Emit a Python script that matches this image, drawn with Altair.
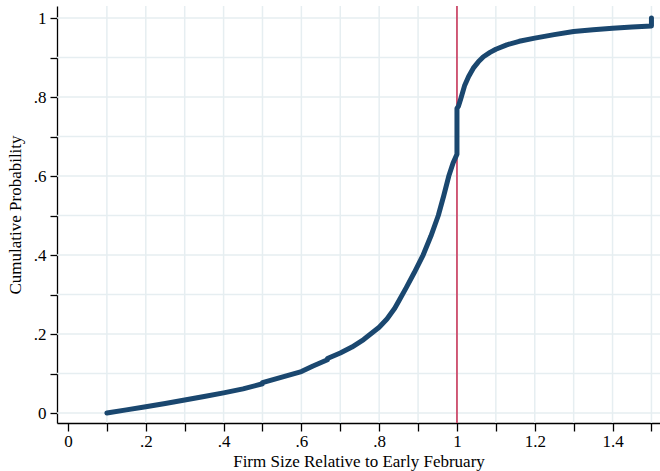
import altair as alt
import pandas as pd

# Empirical CDF of firm size relative to early February
size_ratio = [0.1, 0.15, 0.2, 0.25, 0.3, 0.35, 0.4, 0.45, 0.5, 0.5, 0.55, 0.6,
              0.63, 0.667, 0.667, 0.7, 0.73, 0.76, 0.8, 0.82, 0.84, 0.853, 0.87,
              0.89, 0.913, 0.933, 0.952, 0.966, 0.979, 0.99, 1.0, 1.0, 1.004,
              1.01, 1.02, 1.03, 1.042, 1.055, 1.068, 1.085, 1.1, 1.128, 1.16,
              1.2, 1.25, 1.3, 1.35, 1.4, 1.45, 1.5, 1.5]
cum_prob = [0.0, 0.008, 0.016, 0.024, 0.033, 0.042, 0.051, 0.061, 0.074, 0.077,
            0.091, 0.105, 0.119, 0.135, 0.138, 0.152, 0.167, 0.186, 0.217, 0.238,
            0.265, 0.288, 0.318, 0.355, 0.4, 0.448, 0.5, 0.55, 0.6, 0.633, 0.655,
            0.771, 0.777, 0.796, 0.83, 0.852, 0.873, 0.889, 0.902, 0.913, 0.921,
            0.932, 0.941, 0.949, 0.958, 0.966, 0.970, 0.974, 0.977, 0.98, 1.0]

x_ticks = [round(i * 0.1, 1) for i in range(16)]
y_ticks = [round(i * 0.1, 1) for i in range(11)]
x_grid = x_ticks[1:]
y_grid = y_ticks
ref_x = [1.0]

NAVY = "#1a476f"
RED = "#c9365a"
GRID = "#e6eef1"
FONT = "Liberation Serif"

cdf = pd.DataFrame({"ratio": size_ratio, "prob": cum_prob,
                    "order": list(range(len(size_ratio)))})

x_scale = alt.Scale(domain=[-0.0283, 1.522], nice=False, zero=False)
y_scale = alt.Scale(domain=[-0.0253, 1.0304], nice=False, zero=False)

label_expr = ("abs(round(datum.value * 10)) % 2 == 1 ? '' : "
              "(datum.value > 0 && datum.value < 1 ? slice(format(datum.value, '.1f'), 1) "
              ": format(datum.value, '~g'))")

x_axis = alt.Axis(values=x_ticks, labelExpr=label_expr, grid=False,
                  title="Firm Size Relative to Early February",
                  tickSize=8, labelPadding=2, titlePadding=4,
                  labelOverlap=False, labelFlush=False)
y_axis = alt.Axis(values=y_ticks, labelExpr=label_expr, grid=False,
                  title="Cumulative Probability",
                  tickSize=7, labelPadding=4, titlePadding=9,
                  labelOverlap=False, labelFlush=False)

vgrid = alt.Chart(pd.DataFrame({"g": x_grid})).mark_rule(
    color=GRID, strokeWidth=1.5
).encode(x=alt.X("g:Q", scale=x_scale, axis=x_axis))

hgrid = alt.Chart(pd.DataFrame({"g": y_grid})).mark_rule(
    color=GRID, strokeWidth=1.5
).encode(y=alt.Y("g:Q", scale=y_scale, axis=y_axis))

ref = alt.Chart(pd.DataFrame({"r": ref_x})).mark_rule(
    color=RED, strokeWidth=1.6
).encode(x=alt.X("r:Q", scale=x_scale, axis=x_axis))

line = alt.Chart(cdf).mark_line(
    color=NAVY, strokeWidth=5, strokeCap="round", strokeJoin="round"
).encode(
    x=alt.X("ratio:Q", scale=x_scale, axis=x_axis),
    y=alt.Y("prob:Q", scale=y_scale, axis=y_axis),
    order="order:Q",
)

chart = alt.layer(vgrid, hgrid, ref, line).properties(
    width=603, height=417,
    autosize=alt.AutoSizeParams(type="none"),
    padding={"left": 57, "top": 6, "right": 0, "bottom": 48},
    background="white",
).configure_view(
    stroke=None
).configure_axis(
    labelFont=FONT, titleFont=FONT, labelFontSize=17, titleFontSize=17,
    labelColor="black", titleColor="black", titleFontWeight="normal",
    domainColor="black", domainWidth=1.3, tickColor="black", tickWidth=1.3,
)

chart.save("out.html", embed_options={"renderer": "svg", "actions": False})
